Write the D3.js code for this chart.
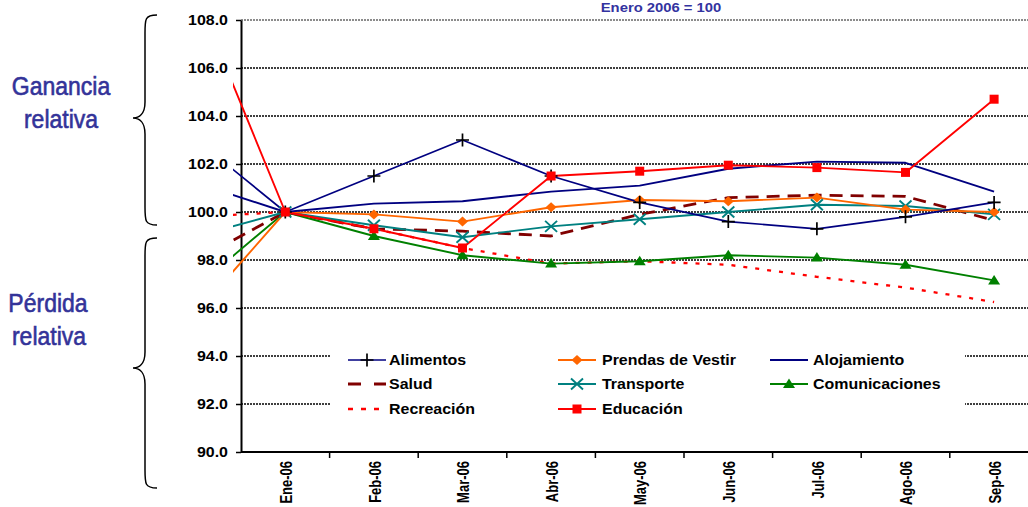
<!DOCTYPE html>
<html>
<head>
<meta charset="utf-8">
<script src="https://cdn.jsdelivr.net/npm/d3@7"></script>
<style>
  html, body { margin: 0; padding: 0; background: #fff; }
  svg { display: block; }
  text { font-family: "Liberation Sans", Arial, sans-serif; }
</style>
</head>
<body>
<svg id="chart" width="1028" height="507"></svg>
<script>
// ---------- data ----------
const priorMonth = "Dic-05";            // point lying just off the left edge
const months = ["Ene-06","Feb-06","Mar-06","Abr-06","May-06","Jun-06","Jul-06","Ago-06","Sep-06"];
const yTicks = [90, 92, 94, 96, 98, 100, 102, 104, 106, 108];
const titleText = "Enero 2006 = 100";

// first value of each list belongs to priorMonth
const alimentos      = [103.0, 100, 101.5, 103.0, 101.5, 100.4, 99.6, 99.3, 99.8, 100.4];
const prendas        = [95.8, 100, 99.9, 99.6, 100.2, 100.5, 100.45, 100.6, 100.1, 100.0];
const alojamiento    = [101.2, 100, 100.35, 100.45, 100.85, 101.1, 101.8, 102.1, 102.05, 100.85];
const salud          = [98.0, 100, 99.3, 99.2, 99.0, 99.9, 100.6, 100.7, 100.65, 99.65];
const transporte     = [99.0, 100, 99.45, 98.95, 99.4, 99.7, 100.0, 100.3, 100.25, 99.9];
const comunicaciones = [96.9, 100, 99.0, 98.2, 97.85, 97.95, 98.2, 98.1, 97.8, 97.15];
const recreacion     = [99.8, 100, 99.3, 98.5, 97.85, 97.95, 97.8, 97.3, 96.85, 96.25];
const educacion      = [109.0, 100, 99.3, 98.5, 101.5, 101.7, 101.95, 101.85, 101.65, 104.7];

const seriesNames = ["Alimentos","Prendas de Vestir","Alojamiento","Salud","Transporte","Comunicaciones","Recreación","Educación"];
const seriesValues = [alimentos, prendas, alojamiento, salud, transporte, comunicaciones, recreacion, educacion];

// ---------- styles ----------
const styles = {
  "Alimentos":         {color:"#000080", width:1.7, dash:null, marker:"plus", mcolor:"#000000"},
  "Prendas de Vestir": {color:"#FF6600", width:1.9, dash:null, marker:"diamond", mcolor:"#FF6600"},
  "Alojamiento":       {color:"#000080", width:1.9, dash:null, marker:null},
  "Salud":             {color:"#800000", width:2.8, dash:"13,8", marker:null},
  "Transporte":        {color:"#008080", width:1.9, dash:null, marker:"cross", mcolor:"#008080"},
  "Comunicaciones":    {color:"#008000", width:1.9, dash:null, marker:"triangle", mcolor:"#008000"},
  "Recreación":        {color:"#FF0000", width:2.3, dash:"4,8", marker:null},
  "Educación":         {color:"#FF0000", width:1.9, dash:null, marker:"square", mcolor:"#FF0000"}
};

// ---------- layout ----------
const svg = d3.select("#chart");
const W = 1028, H = 507;
const axisX = 241, plotTop = 20, plotBottom = 452;
const step = 88.6;
const stretch = 1.14;   // original text is horizontally stretched

const allMonths = [priorMonth, ...months];
const x = d3.scaleBand().domain(allMonths).range([axisX - step, axisX + months.length * step]).padding(0);
const xc = m => x(m) + x.bandwidth() / 2;
const y = d3.scaleLinear().domain([90, 108]).range([plotBottom, plotTop]);

svg.append("defs").append("clipPath").attr("id", "plotclip")
  .append("rect").attr("x", 233).attr("y", 0).attr("width", W - 233).attr("height", plotBottom);

// ---------- gridlines ----------
const grid = svg.append("g");
yTicks.filter(t => t !== 90).forEach(t => {
  grid.append("line")
    .attr("x1", axisX).attr("x2", W)
    .attr("y1", y(t)).attr("y2", y(t))
    .attr("stroke", t === 108 ? "#8c8c8c" : "#000")
    .attr("stroke-width", t === 108 ? 2 : 1.5)
    .attr("stroke-dasharray", "2,1");
});

// ---------- y axis ----------
const yAxis = d3.axisLeft(y).tickValues(yTicks).tickSize(5).tickSizeOuter(0).tickFormat(d3.format(".1f"));
const gy = svg.append("g").attr("transform", `translate(${axisX},0)`).call(yAxis);
gy.select(".domain").attr("stroke", "#000").attr("stroke-width", 2);
gy.selectAll(".tick line").attr("stroke", "#000").attr("stroke-width", 1.5);
gy.selectAll(".tick text").attr("x", 0)
  .attr("transform", `translate(-13,0) scale(${stretch},1)`)
  .style("font-family", "'Liberation Sans', Arial, sans-serif")
  .style("font-size", "14px").style("font-weight", "bold").attr("fill", "#000");

// ---------- x axis ----------
const xAxis = d3.axisBottom(x).tickValues(months).tickSize(0).tickSizeOuter(0);
const gx = svg.append("g").attr("transform", `translate(0,${plotBottom})`).call(xAxis);
gx.select(".domain").remove();
svg.append("line").attr("x1", axisX).attr("x2", W).attr("y1", plotBottom).attr("y2", plotBottom)
  .attr("stroke", "#000").attr("stroke-width", 2);
months.forEach(m => {
  svg.append("line").attr("x1", x(m) + x.bandwidth()).attr("x2", x(m) + x.bandwidth())
    .attr("y1", plotBottom).attr("y2", plotBottom + 6)
    .attr("stroke", "#000").attr("stroke-width", 1.5);
});
gx.selectAll(".tick text")
  .attr("transform", `translate(1,0) scale(${stretch * 14 / 13},1) rotate(-90)`)
  .attr("x", -9).attr("y", 0).attr("dy", "0.36em")
  .style("text-anchor", "end")
  .style("font-family", "'Liberation Sans', Arial, sans-serif")
  .style("font-size", "13px").style("font-weight", "bold").attr("fill", "#000");

// ---------- markers ----------
function drawMarker(g, type, cx, cy, color) {
  if (type === "plus") {
    g.append("path").attr("d", `M${cx-6.5},${cy}H${cx+6.5}M${cx},${cy-6.5}V${cy+6.5}`)
      .attr("stroke", color).attr("stroke-width", 1.7).attr("fill", "none");
  } else if (type === "cross") {
    g.append("path").attr("d", `M${cx-6},${cy-5.5}L${cx+6},${cy+5.5}M${cx-6},${cy+5.5}L${cx+6},${cy-5.5}`)
      .attr("stroke", color).attr("stroke-width", 1.9).attr("fill", "none");
  } else if (type === "diamond") {
    g.append("path").attr("d", `M${cx},${cy-5}L${cx+5.5},${cy}L${cx},${cy+5}L${cx-5.5},${cy}Z`).attr("fill", color);
  } else if (type === "square") {
    g.append("rect").attr("x", cx-4.5).attr("y", cy-4.5).attr("width", 9).attr("height", 9)
      .attr("fill", color);
  } else if (type === "triangle") {
    g.append("path").attr("d", `M${cx},${cy-5.5}L${cx+6},${cy+4}L${cx-6},${cy+4}Z`).attr("fill", color);
  }
}

// ---------- series ----------
const plot = svg.append("g").attr("clip-path", "url(#plotclip)");
const line = d3.line().x((d, i) => xc(allMonths[i])).y(d => y(d));
const drawOrder = ["Recreación","Comunicaciones","Salud","Transporte","Prendas de Vestir","Alojamiento","Alimentos","Educación"];
drawOrder.forEach(name => {
  const vals = seriesValues[seriesNames.indexOf(name)];
  const s = styles[name];
  plot.append("path").datum(vals).attr("d", line)
    .attr("fill", "none").attr("stroke", s.color).attr("stroke-width", s.width)
    .attr("stroke-dasharray", s.dash).attr("stroke-linejoin", "round");
});
drawOrder.forEach(name => {
  const vals = seriesValues[seriesNames.indexOf(name)];
  const s = styles[name];
  if (!s.marker) return;
  const g = plot.append("g");
  vals.forEach((v, i) => { if (i > 0) drawMarker(g, s.marker, xc(allMonths[i]), y(v), s.mcolor); });
});

// ---------- legend ----------
const legend = svg.append("g");
legend.append("rect").attr("x", 331).attr("y", 344).attr("width", 634).attr("height", 80).attr("fill", "#fff");
const colX = [348, 558, 770];
const textX = [389, 602, 813];
const rowY = [360, 384, 409];
seriesNames.forEach((name, i) => {
  const col = i % 3, row = Math.floor(i / 3);
  const s = styles[name];
  const x0 = colX[col], yy = rowY[row];
  legend.append("line").attr("x1", x0).attr("x2", x0 + 38).attr("y1", yy).attr("y2", yy)
    .attr("stroke", s.color).attr("stroke-width", s.width)
    .attr("stroke-dasharray", name === "Salud" ? "13,13" : (name === "Recreación" ? "5,8" : s.dash));
  if (s.marker) {
    const mk = legend.append("g");
    drawMarker(mk, s.marker, x0 + 19, yy, s.mcolor);
  }
  legend.append("text").attr("x", 0).attr("y", 0).attr("dy", "0.36em")
    .attr("transform", `translate(${textX[col]},${yy}) scale(${stretch},1)`)
    .style("font-size", "14px").style("font-weight", "bold").attr("fill", "#000").text(name);
});

// ---------- title ----------
svg.append("text").attr("x", 0).attr("y", 0).attr("text-anchor", "middle")
  .attr("transform", `translate(661,12) scale(${stretch},1)`)
  .style("font-size", "13px").style("font-weight", "bold").attr("fill", "#3333A0").text(titleText);

// ---------- side annotations ----------
function brace(top, tip, bottom) {
  const xr = 157, xm = 145, xt = 133;
  return `M${xr},${top} C${xm},${top} ${xm},${top+4} ${xm},${top+18} L${xm},${tip-16} C${xm},${tip-4} ${xt+6},${tip} ${xt},${tip}` +
         ` C${xt+6},${tip} ${xm},${tip+4} ${xm},${tip+16} L${xm},${bottom-18} C${xm},${bottom-4} ${xm},${bottom} ${xr},${bottom}`;
}
svg.append("path").attr("d", brace(15, 118, 225)).attr("fill", "none").attr("stroke", "#000").attr("stroke-width", 1.5);
svg.append("path").attr("d", brace(238, 368, 488)).attr("fill", "none").attr("stroke", "#000").attr("stroke-width", 1.5);

[["Ganancia", 61, 95], ["relativa", 61, 128], ["Pérdida", 48, 312], ["relativa", 49, 345]].forEach(([t, cx, by]) => {
  svg.append("text").attr("x", 0).attr("y", 0).attr("text-anchor", "middle")
    .attr("transform", `translate(${cx},${by}) scale(0.92,1)`)
    .style("font-size", "25px").attr("fill", "#333399")
    .attr("stroke", "#333399").attr("stroke-width", 0.6).text(t);
});
</script>
</body>
</html>
